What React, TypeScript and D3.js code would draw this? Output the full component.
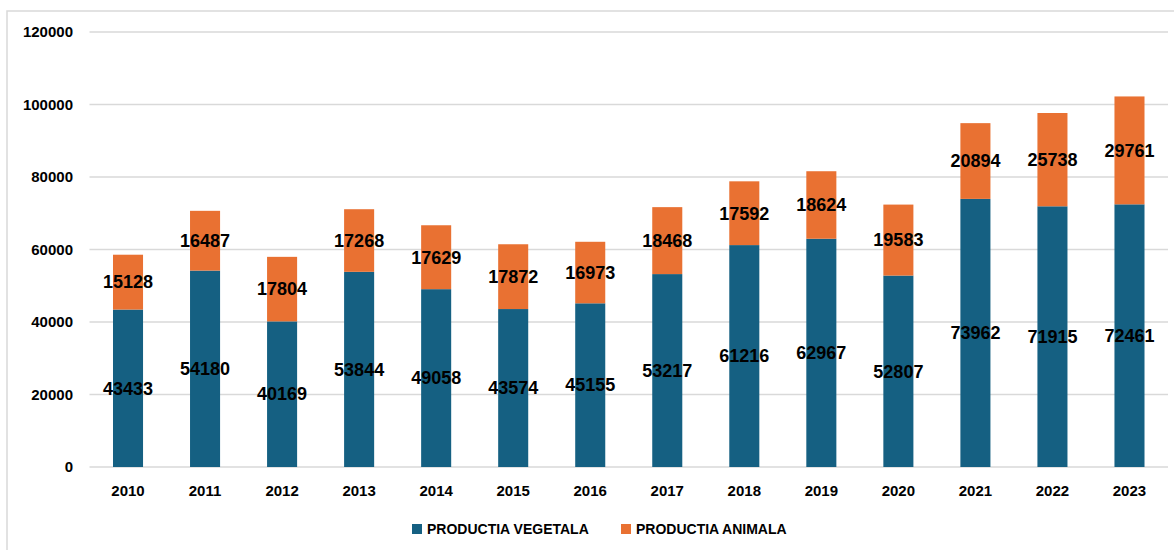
import React, { useEffect, useRef } from "react";
import * as d3 from "d3";

const years = ["2010", "2011", "2012", "2013", "2014", "2015", "2016", "2017", "2018", "2019", "2020", "2021", "2022", "2023"];
const vegetala = [43433, 54180, 40169, 53844, 49058, 43574, 45155, 53217, 61216, 62967, 52807, 73962, 71915, 72461];
const animala = [15128, 16487, 17804, 17268, 17629, 17872, 16973, 18468, 17592, 18624, 19583, 20894, 25738, 29761];
const yTicks = [0, 20000, 40000, 60000, 80000, 100000, 120000];
const seriesNames = ["PRODUCTIA VEGETALA", "PRODUCTIA ANIMALA"];
const colors = ["#156082", "#E97132"];

export default function App() {
  const svgRef = useRef(null);
  const width = 1174;
  const height = 550;

  useEffect(() => {
    const svg = d3.select(svgRef.current);
    svg.selectAll("*").remove();

    const font = "'Liberation Sans', Arial, sans-serif";
    const left = 89.5;
    const right = 1168;
    const top = 32;
    const bottom = 467;

    // Chart border
    svg
      .append("rect")
      .attr("x", 7)
      .attr("y", 11)
      .attr("width", width + 10)
      .attr("height", height + 10)
      .attr("fill", "#fff")
      .attr("stroke", "#d9d9d9")
      .attr("stroke-width", 1.5);

    const x = d3.scaleBand().domain(years).range([left, right]).paddingInner(0.61).paddingOuter(0.305);
    const y = d3.scaleLinear().domain([0, 120000]).range([bottom, top]);

    // Gridlines + y labels
    const g = svg.append("g");
    g.selectAll("line.grid")
      .data(yTicks)
      .enter()
      .append("line")
      .attr("x1", left)
      .attr("x2", right)
      .attr("y1", (d) => y(d))
      .attr("y2", (d) => y(d))
      .attr("stroke", "#d9d9d9")
      .attr("stroke-width", 1.5);

    g.selectAll("text.ytick")
      .data(yTicks)
      .enter()
      .append("text")
      .attr("x", 73)
      .attr("y", (d) => y(d))
      .attr("dy", "0.35em")
      .attr("text-anchor", "end")
      .style("font-family", font)
      .style("font-weight", "bold")
      .style("font-size", "15px")
      .attr("fill", "#000")
      .text((d) => d);

    // Stacked data
    const rows = years.map((yr, i) => ({ year: yr, v: vegetala[i], a: animala[i] }));
    const stack = d3.stack().keys(["v", "a"])(rows);

    stack.forEach((layer, li) => {
      const lg = svg.append("g");
      lg.selectAll("rect")
        .data(layer)
        .enter()
        .append("rect")
        .attr("x", (d) => x(d.data.year))
        .attr("width", x.bandwidth())
        .attr("y", (d) => y(d[1]))
        .attr("height", (d) => y(d[0]) - y(d[1]))
        .attr("fill", colors[li]);

      lg.selectAll("text")
        .data(layer)
        .enter()
        .append("text")
        .attr("x", (d) => x(d.data.year) + x.bandwidth() / 2)
        .attr("y", (d) => (y(d[0]) + y(d[1])) / 2)
        .attr("dy", "0.35em")
        .attr("text-anchor", "middle")
        .style("font-family", font)
        .style("font-weight", "bold")
        .style("font-size", "18px")
        .attr("fill", "#000")
        .text((d) => d[1] - d[0]);
    });

    // X labels
    svg
      .append("g")
      .selectAll("text")
      .data(years)
      .enter()
      .append("text")
      .attr("x", (d) => x(d) + x.bandwidth() / 2)
      .attr("y", 496)
      .attr("text-anchor", "middle")
      .style("font-family", font)
      .style("font-weight", "bold")
      .style("font-size", "15px")
      .attr("fill", "#000")
      .text((d) => d);

    // Legend
    const legendX = [412, 621];
    const lg = svg.append("g");
    seriesNames.forEach((name, i) => {
      lg.append("rect")
        .attr("x", legendX[i])
        .attr("y", 524)
        .attr("width", 10)
        .attr("height", 10)
        .attr("fill", colors[i]);
      lg.append("text")
        .attr("x", legendX[i] + 15)
        .attr("y", 534)
        .style("font-family", font)
        .style("font-weight", "bold")
        .style("font-size", "14px")
        .attr("fill", "#000")
        .text(name);
    });
  }, []);

  return (
    <svg
      ref={svgRef}
      width={width}
      height={height}
      style={{ position: "absolute", left: 0, top: 0, display: "block" }}
    ></svg>
  );
}
